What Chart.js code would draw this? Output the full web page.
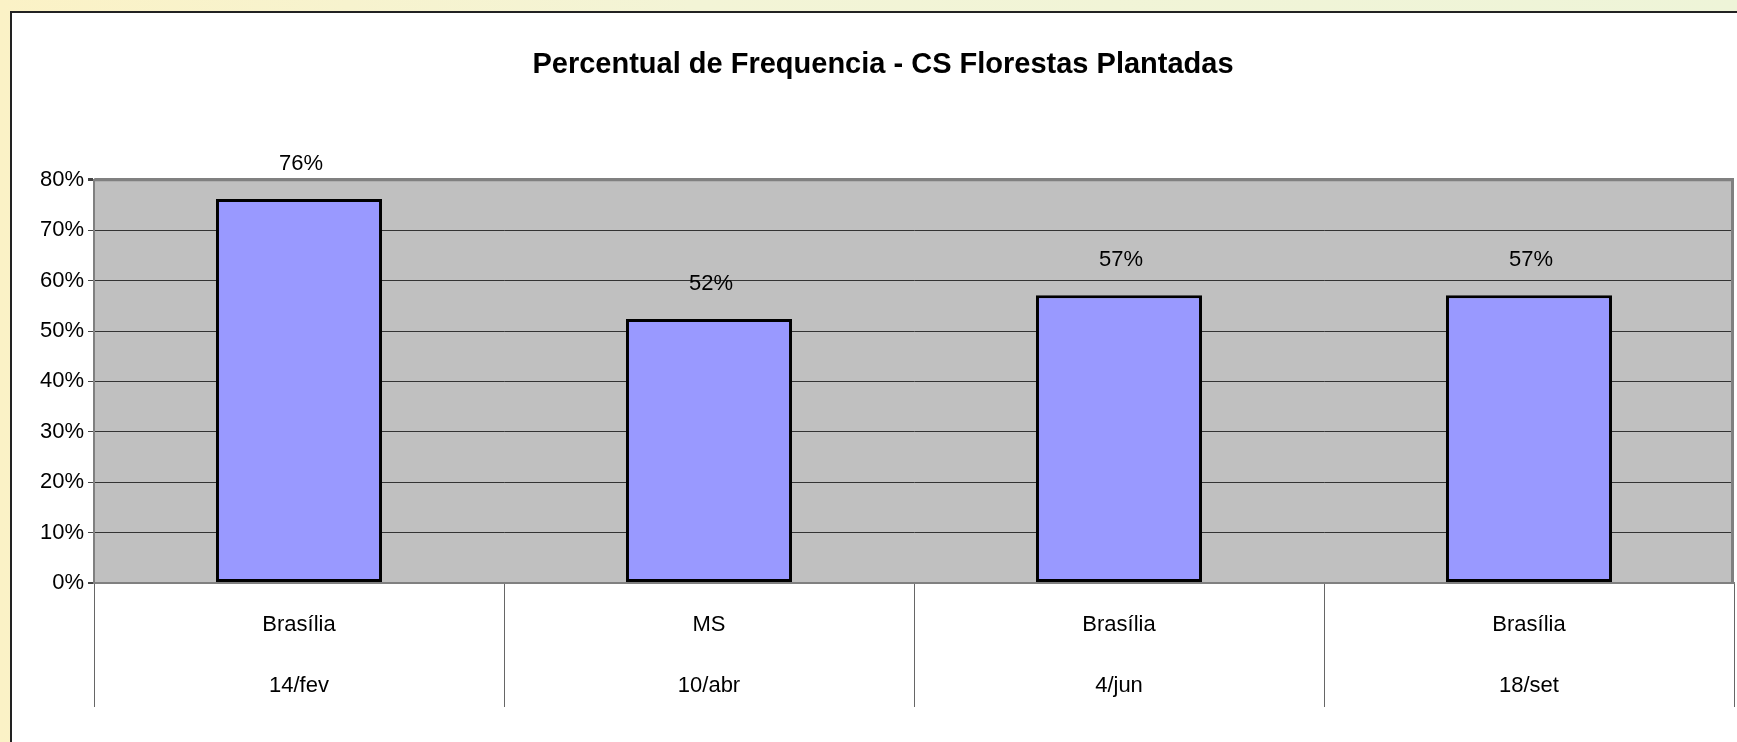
<!DOCTYPE html>
<html>
<head>
<meta charset="utf-8">
<script src="https://cdn.jsdelivr.net/npm/chart.js@4.4.1/dist/chart.umd.min.js"></script>
<style>
    html, body {
        margin: 0;
        padding: 0;
        width: 1737px;
        height: 742px;
        overflow: hidden;
        background: linear-gradient(to right, #fbf2c6, #f3f4d6 40%, #eef4d8);
    }
    #panel {
        position: absolute;
        left: 10px;
        top: 11px;
        width: 1740px;
        height: 740px;
        background: #fff;
        border-left: 2px solid #222;
        border-top: 2px solid #222;
    }
    #wrap {
        position: absolute;
        left: 0;
        top: 0;
        width: 1737px;
        height: 742px;
    }
</style>
</head>
<body>
<div id="panel"></div>
<div id="wrap"><canvas id="chart" width="1737" height="742"></canvas></div>
<script>
    // Chart data
    const places = ['Brasília', 'MS', 'Brasília', 'Brasília'];
    const dates = ['14/fev', '10/abr', '4/jun', '18/set'];
    const frequency = [76.2, 52.4, 57.1, 57.1];
    const yTicks = [0, 10, 20, 30, 40, 50, 60, 70, 80];

    const FONT = "'Liberation Sans Narrow', 'Arial Narrow', 'Liberation Sans', Arial, sans-serif";

    // Grey plot background with darker top/right frame
    const plotFrame = {
        id: 'plotFrame',
        beforeDraw(chart) {
            const a = chart.chartArea;
            const ctx = chart.ctx;
            ctx.save();
            ctx.fillStyle = '#c0c0c0';
            ctx.fillRect(a.left, a.top, a.right - a.left, a.bottom - a.top);
            ctx.restore();
        },
        afterDraw(chart) {
            const a = chart.chartArea;
            const ctx = chart.ctx;
            ctx.save();
            ctx.strokeStyle = '#808080';
            ctx.lineWidth = 3;
            ctx.beginPath();
            ctx.moveTo(a.left, a.top);
            ctx.lineTo(a.right - 1.5, a.top);
            ctx.lineTo(a.right - 1.5, a.bottom);
            ctx.stroke();
            ctx.restore();
        }
    };

    // Value labels above bars
    const barLabels = {
        id: 'barLabels',
        afterDatasetsDraw(chart) {
            const ctx = chart.ctx;
            const meta = chart.getDatasetMeta(0);
            ctx.save();
            ctx.font = '22px ' + FONT;
            ctx.fillStyle = '#000';
            ctx.textAlign = 'center';
            ctx.textBaseline = 'middle';
            meta.data.forEach((bar, i) => {
                ctx.fillText(Math.round(frequency[i]) + '%', bar.x + 2, bar.y - 35);
            });
            ctx.restore();
        }
    };

    const labels = places.map((p, i) => [p, dates[i]]);

    new Chart(document.getElementById('chart'), {
        type: 'bar',
        data: {
            labels: labels,
            datasets: [{
                data: frequency,
                backgroundColor: '#9999ff',
                borderColor: '#000',
                borderWidth: 3,
                borderSkipped: false,
                barPercentage: 0.405,
                categoryPercentage: 1
            }]
        },
        options: {
            responsive: false,
            animation: false,
            layout: {
                padding: { left: 32, right: 3, top: 0, bottom: 27.5 }
            },
            plugins: {
                legend: { display: false },
                tooltip: { enabled: false },
                title: {
                    display: true,
                    text: 'Percentual de Frequencia - CS Florestas Plantadas',
                    color: '#000',
                    font: { family: FONT, size: 29, weight: 'bold', lineHeight: 1.2 },
                    padding: { top: 48, bottom: 97 }
                }
            },
            scales: {
                x: {
                    offset: true,
                    // labels sit inside the long divider ticks, so fix the band height
                    afterFit(scale) { scale.height = 131.5; },
                    border: { color: '#808080', width: 2 },
                    grid: {
                        offset: true,
                        drawOnChartArea: false,
                        drawTicks: true,
                        tickLength: 124,
                        color: '#666',
                        tickColor: '#666',
                        lineWidth: 1
                    },
                    ticks: {
                        color: '#000',
                        maxRotation: 0,
                        autoSkip: false,
                        padding: -112.5,
                        font: { family: FONT, size: 22, lineHeight: 61 / 22 }
                    }
                },
                y: {
                    min: 0,
                    max: 80,
                    afterFit(scale) { scale.width = 62; },
                    afterBuildTicks(scale) { scale.ticks = yTicks.map(v => ({ value: v })); },
                    border: { color: '#808080', width: 2 },
                    grid: {
                        color: ctx => (ctx.tick && (ctx.tick.value === 80 || ctx.tick.value === 0)) ? '#808080' : '#333',
                        lineWidth: ctx => (ctx.tick && ctx.tick.value === 80) ? 3 : (ctx.tick && ctx.tick.value === 0 ? 2 : 1),
                        tickColor: '#444',
                        tickLength: 6
                    },
                    ticks: {
                        color: '#000',
                        padding: 4,
                        font: { family: FONT, size: 22 },
                        callback: v => v + '%'
                    }
                }
            }
        },
        plugins: [plotFrame, barLabels]
    });
</script>
</body>
</html>
